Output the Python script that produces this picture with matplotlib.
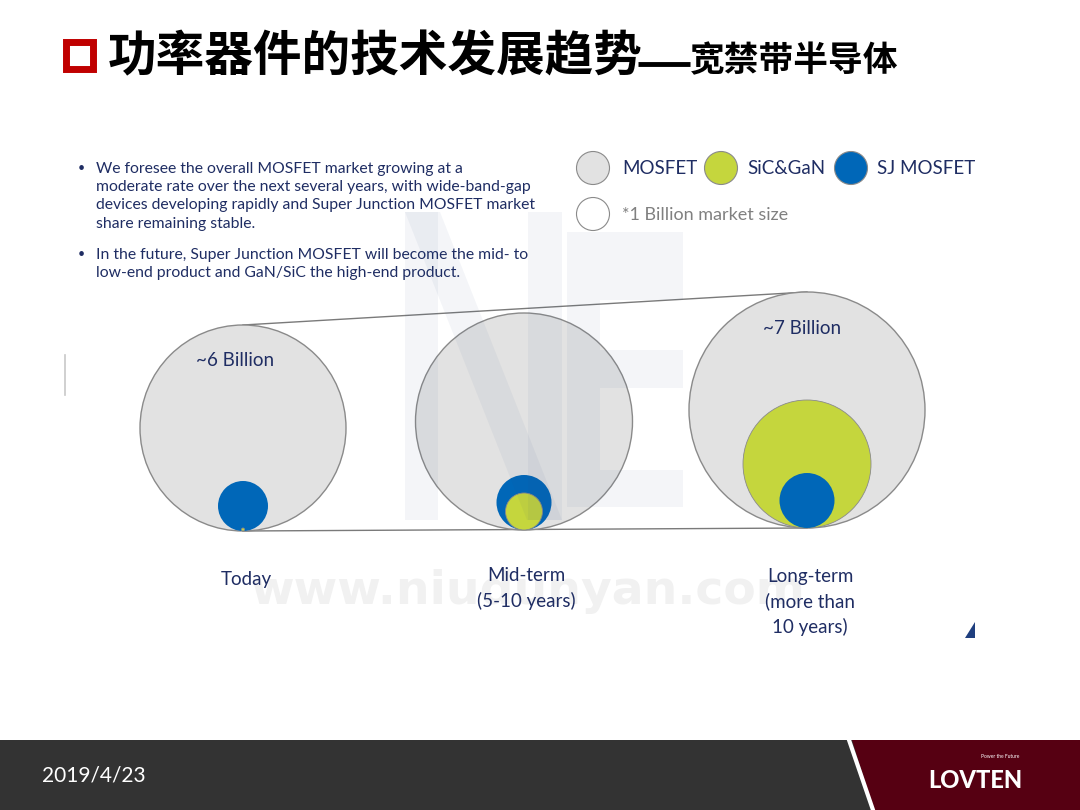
import matplotlib.pyplot as plt
import matplotlib.patches as patches

# data
stages = ["Today", "Mid-term\n(5-10 years)", "Long-term\n(more than\n10 years)"]
market_labels = ["~6 Billion", "", "~7 Billion"]
mosfet_size = [103, 108.5, 118]     # relative circle radius
sic_gan_size = [1.5, 18.5, 64]
sj_size = [25, 27.5, 27.5]
legend_names = ["MOSFET", "SiC&GaN", "SJ MOSFET"]

bullets = [
    "We foresee the overall MOSFET market growing at a\n"
    "moderate rate over the next several years, with wide-band-gap\n"
    "devices developing rapidly and Super Junction MOSFET market\n"
    "share remaining stable.",
    "In the future, Super Junction MOSFET will become the mid- to\n"
    "low-end product and GaN/SiC the high-end product.",
]

navy = "#1f2d63"
c_mos, c_sic, c_sj = "#e2e2e2", "#c5d63d", "#0067b8"
edge = "#8a8a8a"
cjk = ["Noto Sans CJK SC", "DejaVu Sans"]
latin = "Lato"

fig = plt.figure(figsize=(10.8, 8.1), dpi=100)
ax = fig.add_axes([0, 0, 1, 1])
ax.set_xlim(0, 1080)
ax.set_ylim(810, 0)
ax.set_aspect("equal")
ax.axis("off")

# title
ax.add_patch(patches.Rectangle((66, 42), 27, 27, fill=False, edgecolor="#c00000", lw=5))
ax.text(108, 57, "功率器件的技术发展趋势", family=cjk, fontsize=35, weight="heavy",
        va="center", ha="left", color="black")
ax.plot([638, 690], [64, 64], color="black", lw=3.5, solid_capstyle="butt")
ax.text(690, 61, "宽禁带半导体", family=cjk, fontsize=25, weight="heavy",
        va="center", ha="left", color="black")

# watermark (faint NE logo + url)
wm = "#2a4a80"
wm_shapes = [
    [(405, 212), (438, 212), (438, 520), (405, 520)],
    [(405, 212), (440, 212), (562, 520), (527, 520)],
    [(528, 212), (562, 212), (562, 520), (528, 520)],
    [(567, 232), (683, 232), (683, 300), (600, 300), (600, 350), (683, 350),
     (683, 388), (600, 388), (600, 470), (683, 470), (683, 507), (567, 507)],
]
for pts in wm_shapes:
    ax.add_patch(patches.Polygon(pts, closed=True, facecolor=wm, edgecolor="none",
                                 alpha=0.05, zorder=10))
ax.text(528, 592, "www.niudunyan.com", fontsize=34, weight="bold", color="#f1f1f1",
        ha="center", va="center", family="DejaVu Sans", zorder=0)

# bullets
ys = [168, 254]
for y, b in zip(ys, bullets):
    ax.text(78, y, "•", fontsize=9, color=navy, family=latin, va="center")
    ax.text(96, y - 6, b, fontsize=11.3, color=navy, family=latin, va="top",
            linespacing=1.38)

# legend
leg_x = [593, 721, 851]
leg_col = [c_mos, c_sic, c_sj]
txt_x = [622, 747, 877]
for lx, lc, tx, name in zip(leg_x, leg_col, txt_x, legend_names):
    ax.add_patch(patches.Circle((lx, 168), 16.5, facecolor=lc, edgecolor=edge, lw=0.8, zorder=3))
    ax.text(tx, 168, name, fontsize=13.5, color=navy, family=latin, va="center", zorder=4)
ax.add_patch(patches.Circle((593, 214), 16.5, facecolor="white", edgecolor=edge, lw=0.8, zorder=3))
ax.text(622, 215, "*1 Billion market size", fontsize=13, color="#808080", family=latin,
        va="center", zorder=4)

# bubbles
cx = [243, 524, 807]
base = [531, 530, 528]
label_dx = [3, 2, 3]
label_top = [571, 567, 568]
for i in range(3):
    layers = sorted(zip([mosfet_size[i], sic_gan_size[i], sj_size[i]], [c_mos, c_sic, c_sj]),
                    key=lambda t: -t[0])
    for k, (r, col) in enumerate(layers):
        ec = edge if col != c_sj else "none"
        ax.add_patch(patches.Circle((cx[i], base[i] - r), r, facecolor=col, edgecolor=ec,
                                    lw=1.0 if col == c_mos else 0.6, zorder=2 + k))
    ax.text(cx[i] + label_dx[i], label_top[i], stages[i],
            fontsize=13.5, color=navy, family=latin, ha="center", va="top", linespacing=1.5)
    if market_labels[i]:
        ax.text(cx[i] - 8 if i == 0 else cx[i] - 5, base[i] - 2 * mosfet_size[i] + 36,
                market_labels[i], fontsize=13.5, color=navy, family=latin,
                ha="center", va="center", zorder=6)

# connecting lines
ax.plot([cx[0], cx[2]], [base[0] - 2 * mosfet_size[0], base[2] - 2 * mosfet_size[2]],
        color="#7a7a7a", lw=1.0, zorder=1.5)
ax.plot([cx[0], cx[2]], [base[0], base[2]], color="#7a7a7a", lw=1.0, zorder=1.5)

# small slide artefacts
ax.plot([65, 65], [355, 395], color="#c8c8c8", lw=1.2)
ax.add_patch(patches.Polygon([(965, 638), (975, 622), (975, 638)], facecolor="#1f3f7f",
                             edgecolor="none"))

# footer
ax.add_patch(patches.Rectangle((0, 740), 1080, 70, facecolor="#333333", edgecolor="none", zorder=1))
ax.add_patch(patches.Polygon([(852, 740), (1080, 740), (1080, 810), (874, 810)],
                             facecolor="#560012", edgecolor="none", zorder=2))
ax.plot([849, 873], [740, 810], color="white", lw=3, zorder=3)
ax.text(42, 776, "2019/4/23", fontsize=15, color="white", family=latin, va="center", zorder=4)
ax.text(975, 780, "LOVTEN", fontsize=17, color="white", weight="black", family=latin,
        ha="center", va="center", zorder=4)
ax.text(1000, 756, "Power the Future", fontsize=3.5, color="white", family=latin,
        ha="center", va="center", zorder=4)

fig.savefig("out.png", dpi=100)
